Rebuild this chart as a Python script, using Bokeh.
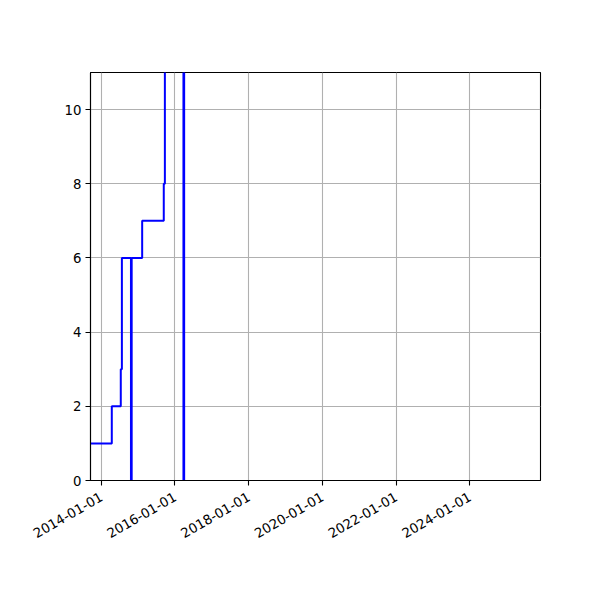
import math
from datetime import datetime
import pandas as pd
from bokeh.plotting import figure
from bokeh.models import Range1d, FixedTicker, DatetimeTickFormatter
from bokeh.embed import file_html
from bokeh.resources import INLINE

# ---- data ----
dates = ["2013-09-01", "2014-04-15", "2014-07-13", "2014-07-24", "2014-10-22",
         "2014-10-29", "2015-02-10", "2015-09-12", "2015-09-23", "2016-03-25",
         "2016-04-01", "2025-05-13"]
values = [1, 2, 3, 6, 0, 6, 7, 8, 12, 0, 13, 13]
x_tick_labels = ["2014-01-01", "2016-01-01", "2018-01-01", "2020-01-01",
                 "2022-01-01", "2024-01-01"]
y_ticks = [0, 2, 4, 6, 8, 10]

xs = pd.to_datetime(dates)

p = figure(width=600, height=600, x_axis_type="datetime",
           output_backend="svg", toolbar_location=None,
           x_range=Range1d(datetime(2013, 9, 16), datetime(2025, 12, 1)),
           y_range=Range1d(0, 11),
           min_border_left=90, min_border_right=60,
           min_border_top=72, min_border_bottom=120)

p.step(xs, values, mode="after", line_color="#0000ff", line_width=2.0)

tick_ms = [pd.Timestamp(t).value / 1e6 for t in x_tick_labels]
p.xaxis.ticker = FixedTicker(ticks=tick_ms)
p.xaxis.formatter = DatetimeTickFormatter(
    years="%Y-%m-%d", months="%Y-%m-%d", days="%Y-%m-%d",
    hours="%Y-%m-%d", minutes="%Y-%m-%d", seconds="%Y-%m-%d",
    milliseconds="%Y-%m-%d", microseconds="%Y-%m-%d")
p.xaxis.major_label_orientation = math.pi / 6
p.yaxis.ticker = FixedTicker(ticks=y_ticks)

for ax in (p.xaxis[0], p.yaxis[0]):
    ax.major_label_text_font = "DejaVu Sans"
    ax.major_label_text_font_size = "13.3px"
    ax.major_label_text_color = "black"
    ax.axis_line_color = "black"
    ax.axis_line_width = 1.1
    ax.major_tick_line_color = "black"
    ax.major_tick_line_width = 1.1
    ax.major_tick_out = 5
    ax.major_tick_in = 0
    ax.minor_tick_line_color = None
    ax.major_label_standoff = 4
p.xaxis[0].major_label_standoff = 10

p.grid.grid_line_color = "#b0b0b0"
p.grid.grid_line_width = 1.1
p.outline_line_color = "black"
p.outline_line_width = 1.1
p.background_fill_color = "white"
p.border_fill_color = "white"

open("out.html", "w").write(file_html(p, INLINE))
